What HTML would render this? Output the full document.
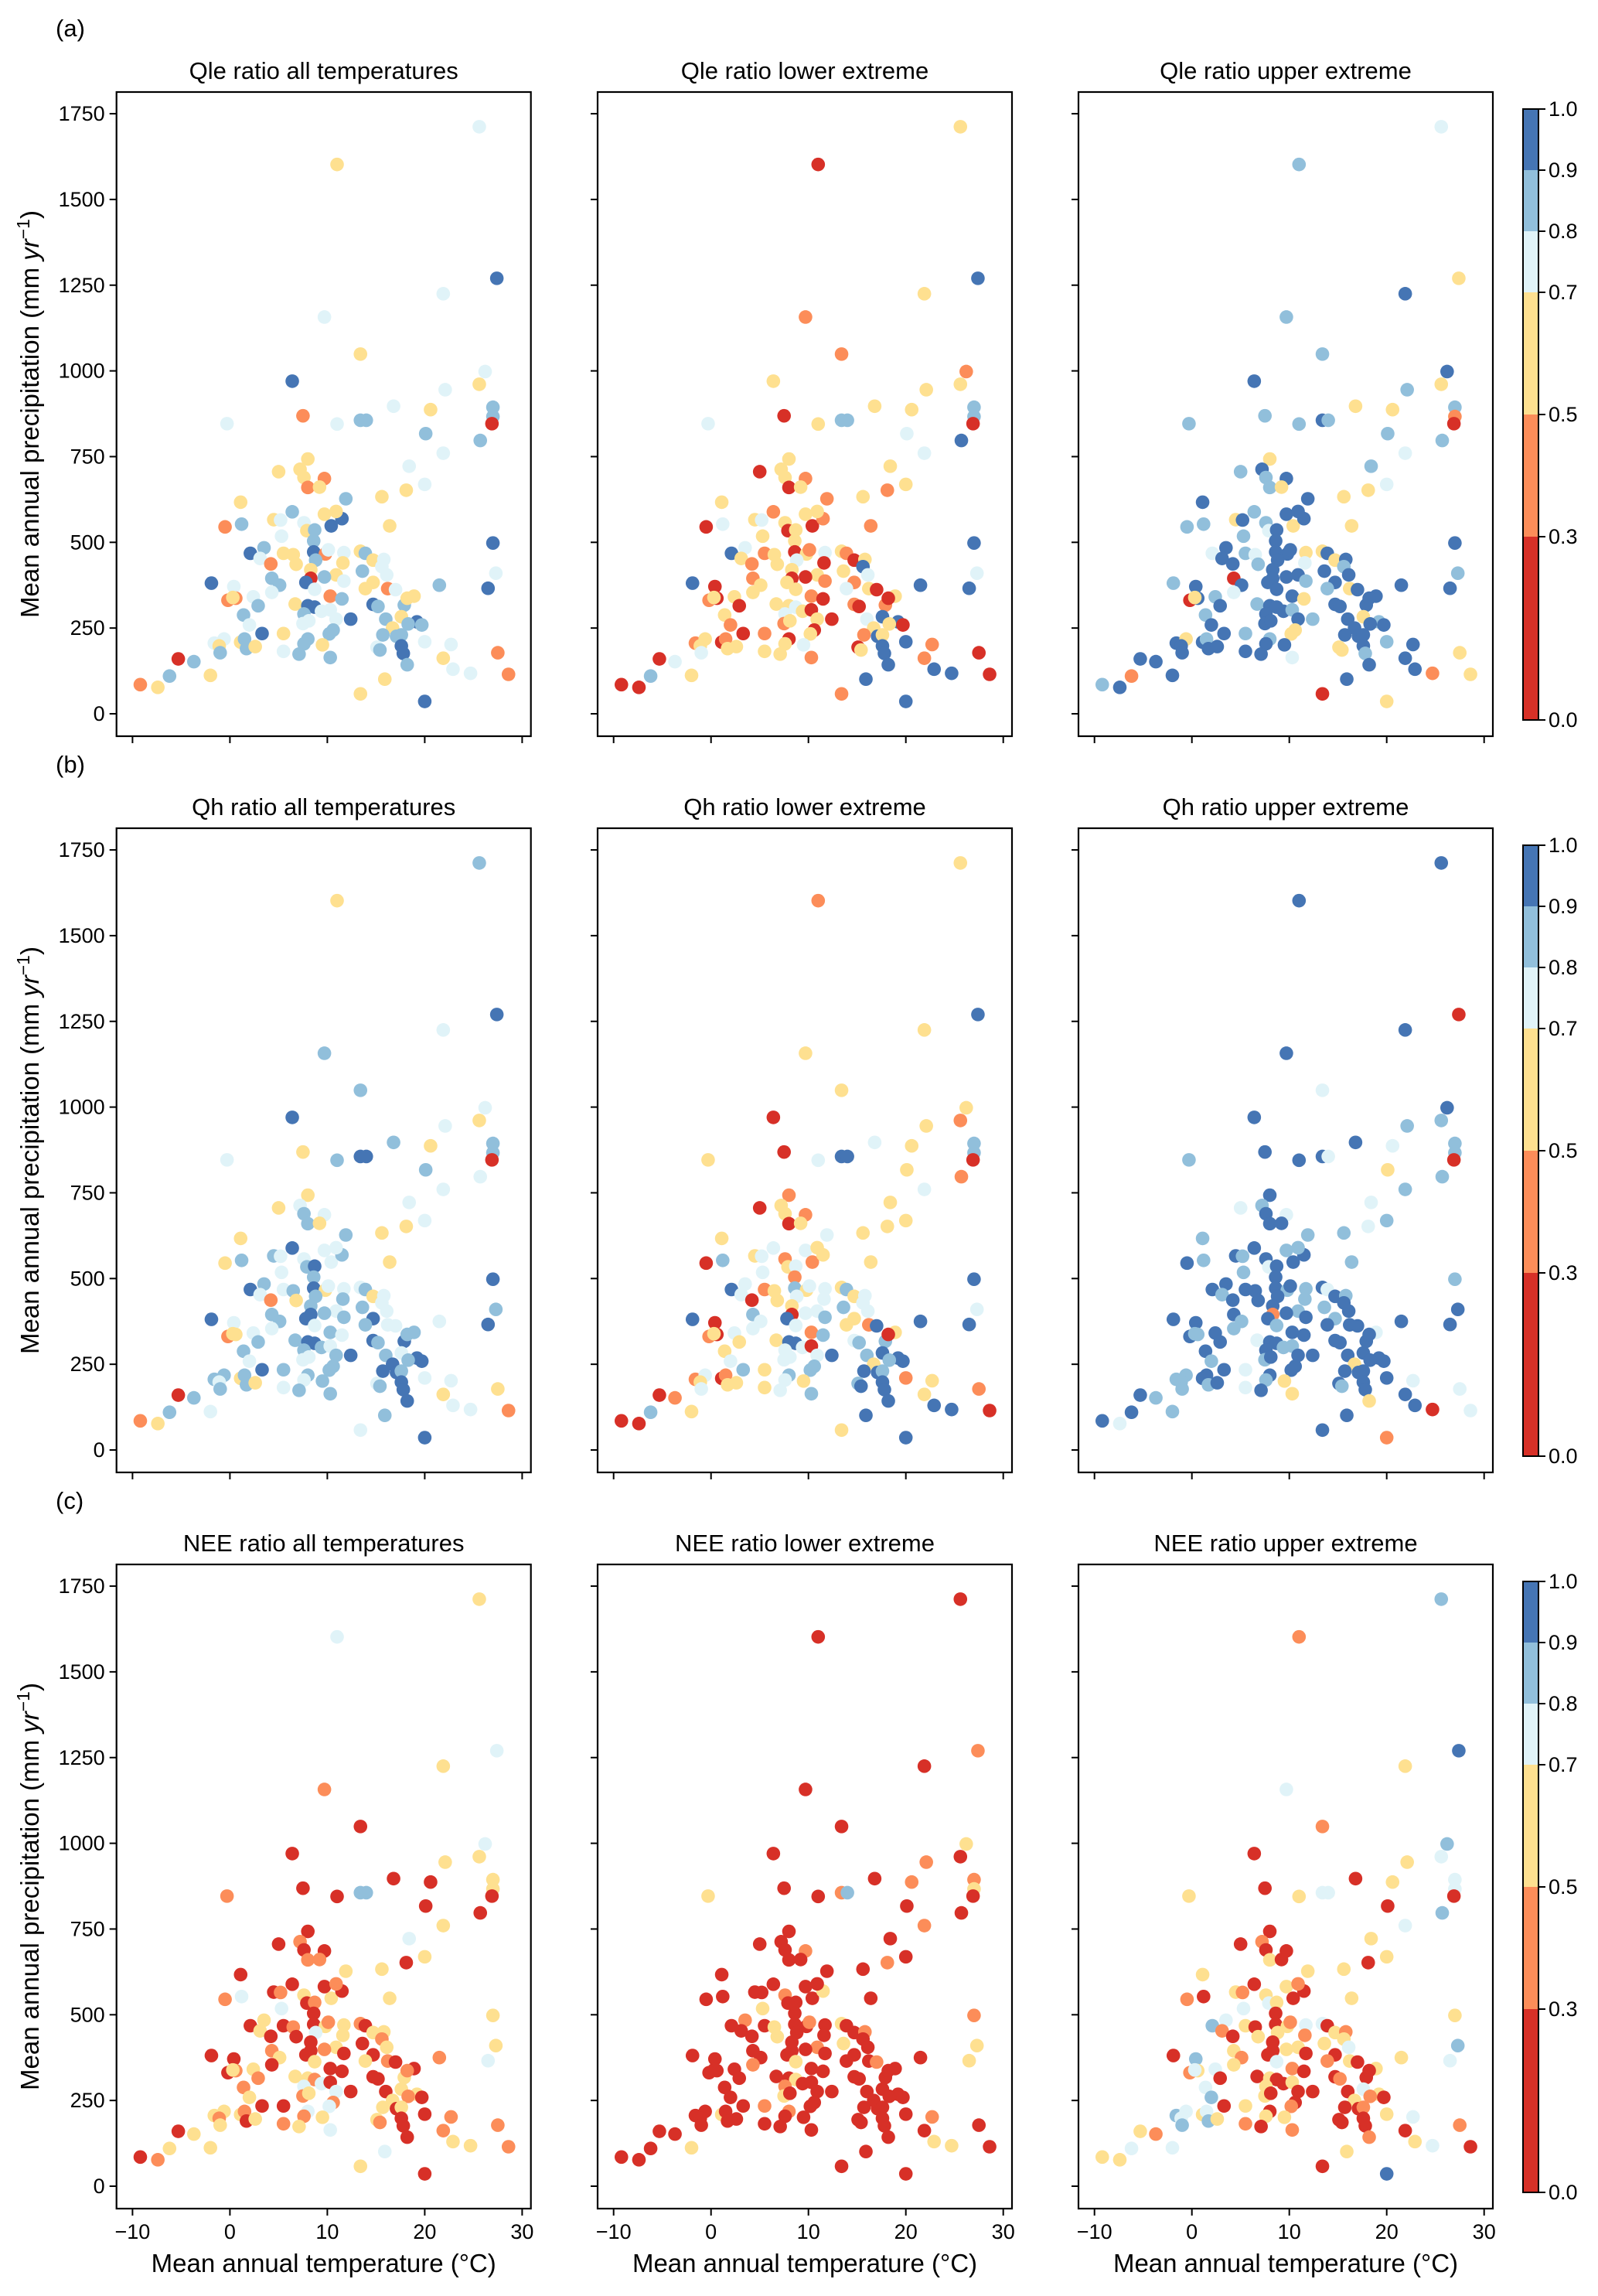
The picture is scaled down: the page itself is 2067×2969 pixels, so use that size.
<!DOCTYPE html>
<html><head><meta charset="utf-8"><style>
html,body{margin:0;padding:0;background:#fff}
svg text{font-family:"Liberation Sans",Arial,sans-serif;fill:#000}
</style></head><body>
<svg id="fig" xmlns="http://www.w3.org/2000/svg" width="2067" height="2964" viewBox="0 0 2067 2964"></svg>
<script>
// Site data: mean annual temperature (°C) and precipitation (mm/yr)
const temps = [21.9,9.7,13.4,6.4,26.2,25.6,22.1,16.8,20.6,27.0,27.0,26.9,7.5,-0.3,11.0,13.4,14.0,20.1,25.7,21.9,18.4,20.0,18.1,15.6,8.0,5.0,7.2,7.6,9.7,8.0,9.2,11.9,1.1,-0.5,1.2,4.5,6.4,5.2,7.6,7.9,8.7,10.4,11.5,9.7,10.9,16.4,5.3,8.6,2.1,3.5,3.1,5.5,6.5,8.6,9.8,10.1,11.7,4.2,6.8,11.6,8.8,13.4,13.9,14.7,15.8,15.6,8.3,13.6,16.1,27.0,27.3,26.5,21.5,8.3,7.8,4.3,5.1,-1.9,0.4,10.9,11.7,9.7,8.7,14.7,13.9,16.2,17.0,-0.2,0.6,0.3,2.4,4.3,2.9,6.7,10.3,11.5,8.0,8.7,14.7,15.2,17.9,18.9,18.2,17.6,1.4,2.0,3.3,7.6,9.4,10.3,10.9,12.4,7.5,8.1,16.0,19.2,19.7,18.3,16.7,5.5,10.6,10.2,15.7,17.1,17.6,8.0,7.6,9.5,-1.6,-0.6,-1.1,-1.0,1.1,1.5,1.7,2.6,20.0,22.7,15.1,15.4,17.6,17.8,5.5,7.1,10.3,21.9,18.2,27.5,22.9,24.7,28.6,15.9,13.4,20.0,-5.3,-3.7,-6.2,-2.0,-9.2,-7.4,11.0,25.6,27.4];
const precip = [1225,1157,1049,970,998,961,945,897,887,894,867,846,869,846,845,856,856,817,797,760,722,669,652,633,743,706,713,689,686,660,661,627,617,545,553,566,589,565,557,534,536,548,569,582,590,548,518,504,468,484,453,468,464,472,466,478,470,437,436,440,448,474,468,448,450,429,420,416,405,498,410,366,375,395,383,395,375,381,371,405,387,399,363,383,365,365,362,331,337,339,341,354,315,320,343,335,315,311,319,313,317,343,337,283,288,259,234,291,299,303,276,276,263,271,276,268,259,262,250,234,244,233,230,226,230,218,204,201,206,218,198,178,209,218,190,196,210,202,194,186,198,176,182,174,164,162,143,178,130,118,115,101,58,36,160,152,110,112,85,77,1602,1712,1270];
// Ratio class codes per panel (0:<0.3, 1:0.3-0.5, 2:0.5-0.7, 3:0.7-0.8, 4:0.8-0.9, 5:0.9-1.0)
const qleAll   = "3325323324401334444333222222112421424332455222345432251331224242332435354054453234322131123342145554422243543335334544224444444233242442333455344241331225044212235";
const qleLower = "2112122224400324435322122022102120321320201221225321202131203210252235355021250210213201022202102310120521032020123502210215202312230122510255221150550515034200025";
const qleUpper = "544552422410444544434322245454255442454352555245355435552543525254555545555054554555425052435452555555524555545455545554225554555255545545225455355251250255154543245";
const qhAll    = "3445323424402345543333222234342422445334534332345433452331244342334435453554453344354331223344435554544343544345334554544455443444342442333455344252331435044312245";
const qhLower  = "2220212324400235521322221022102320423312312322315331242330233242332435355054350343322151023322145534420523433035334554224455443213230122124555234251550525014200125";
const qhUpper  = "553554453440545532443434534535544545545355544445554555454554553545545455515545545544555544545355555553555455445545555523555555424444554553545535252350355154545355";
const neeAll   = "2100322002200104400232020010011201300120120012300220102120023102210022231001200201202100122012002100201212033030120201201320231222122102012100123101221320022201323";
const neeLower = "0000201011200201400100100000100000000010002000200100200100200200100201220000000100200010000100000200000000010000200000010000010000002000010000000000220000000200001";
const neeUpper = "2310432023300223304322020010020221020123200212304312002130212302120232432002104202301201233200102001020334020200200201220100102243342342230000101011230205213322145";
const classRatio = [0.15, 0.4, 0.6, 0.75, 0.85, 0.95];
const panelTitles = ["Qle ratio all temperatures","Qle ratio lower extreme","Qle ratio upper extreme","Qh ratio all temperatures","Qh ratio lower extreme","Qh ratio upper extreme","NEE ratio all temperatures","NEE ratio lower extreme","NEE ratio upper extreme"];
const panelCodes = [qleAll,qleLower,qleUpper,qhAll,qhLower,qhUpper,neeAll,neeLower,neeUpper];
const xTicks = [-10,0,10,20,30];
const yTicks = [0,250,500,750,1000,1250,1500,1750];
const cbBounds = [0,0.3,0.5,0.7,0.8,0.9,1.0];
const cbTickLabels = ["0.0","0.3","0.5","0.7","0.8","0.9","1.0"];
const cbColors = ["#d73027","#fc8d59","#fee090","#e0f3f8","#91bfdb","#4575b4"];
const rowLabels = ["(a)","(b)","(c)"];

const NS="http://www.w3.org/2000/svg";
const svg=document.getElementById('fig');
function mk(tag,attrs,parent){const e=document.createElementNS(NS,tag);for(const k in attrs)e.setAttribute(k,attrs[k]);(parent||svg).appendChild(e);return e;}
const colLeft=[150.7,773,1395], PW=536, PH=833, ROWSTEP=952, TOP0=119;
function xScale(col,t){return colLeft[col]+20.7+(t+10)*12.6;}
function yScale(row,p){return TOP0+row*ROWSTEP+804-p*0.4434;}
function colorFor(v){for(let i=0;i<cbColors.length;i++){if(v<cbBounds[i+1])return cbColors[i];}return cbColors[cbColors.length-1];}

for(let r=0;r<3;r++){
  const lab=mk('text',{x:72,y:47+r*ROWSTEP,'font-size':31});
  lab.textContent=rowLabels[r];
  
  
  for(let c=0;c<3;c++){
    const idx=r*3+c;
    const top=TOP0+r*ROWSTEP, left=colLeft[c];
    const g=mk('g',{});
    
    
    const t=mk('text',{x:left+PW/2,y:top-17,'font-size':31,'text-anchor':'middle'},g);
    t.textContent=panelTitles[idx];
    
    
    const codes=panelCodes[idx];
    for(let i=0;i<temps.length;i++){
      const v=classRatio[+codes[i]||0];
      const pt=mk('circle',{cx:xScale(c,temps[i]),cy:yScale(r,precip[i]),r:8.8,fill:colorFor(v)},g);
      
      
    }
    const fr=mk('rect',{x:left,y:top,width:PW,height:PH,fill:'none',stroke:'#000','stroke-width':2.2},g);
    
    
    for(const yt of yTicks){
      const yy=yScale(r,yt);
      const tl=mk('line',{x1:left-9,x2:left,y1:yy,y2:yy,stroke:'#000','stroke-width':2},g);
      
      
      if(c===0){
        const tx=mk('text',{x:left-15,y:yy+9,'font-size':27,'text-anchor':'end'},g);
        tx.textContent=yt;
        
        
      }
    }
    for(const xt of xTicks){
      const xx=xScale(c,xt);
      const tl=mk('line',{x1:xx,x2:xx,y1:top+PH,y2:top+PH+9,stroke:'#000','stroke-width':2},g);
      
      
      if(r===2){
        const tx=mk('text',{x:xx,y:top+PH+39,'font-size':27,'text-anchor':'middle'},g);
        tx.textContent=(xt<0?'\u2212'+(-xt):xt);
        
        
      }
    }
    if(r===2){
      const xl=mk('text',{x:left+PW/2,y:top+PH+82,'font-size':33,'text-anchor':'middle'},g);
      xl.textContent='Mean annual temperature (\u00B0C)';
      
      
    }
    if(c===0){
      const cy=top+PH/2;
      const yl=mk('text',{x:0,y:0,'font-size':33,'text-anchor':'middle',transform:`translate(50,${cy}) rotate(-90)`},g);
      yl.innerHTML='Mean annual precipitation (mm <tspan font-style="italic">yr</tspan><tspan dy="-12" font-size="23">\u22121</tspan><tspan dy="12">)</tspan>';
      
      
    }
  }
  const cbTop=141+r*ROWSTEP, cbBot=931+r*ROWSTEP, cbL=1970, cbW=20, cbLen=cbBot-cbTop;
  const cg=mk('g',{});
  
  
  for(let i=0;i<cbColors.length;i++){
    const y1=cbBot-cbBounds[i+1]*cbLen, y2=cbBot-cbBounds[i]*cbLen;
    const seg=mk('rect',{x:cbL,y:y1,width:cbW,height:y2-y1,fill:cbColors[i]},cg);
    
    
  }
  mk('rect',{x:cbL,y:cbTop,width:cbW,height:cbLen,fill:'none',stroke:'#000','stroke-width':2},cg);
  for(let i=0;i<cbBounds.length;i++){
    const yy=cbBot-cbBounds[i]*cbLen;
    mk('line',{x1:cbL+cbW,x2:cbL+cbW+9,y1:yy,y2:yy,stroke:'#000','stroke-width':2},cg);
    const tx=mk('text',{x:cbL+cbW+13,y:yy+9,'font-size':27},cg);
    tx.textContent=cbTickLabels[i];
    
    
  }
}
</script>
</body></html>
